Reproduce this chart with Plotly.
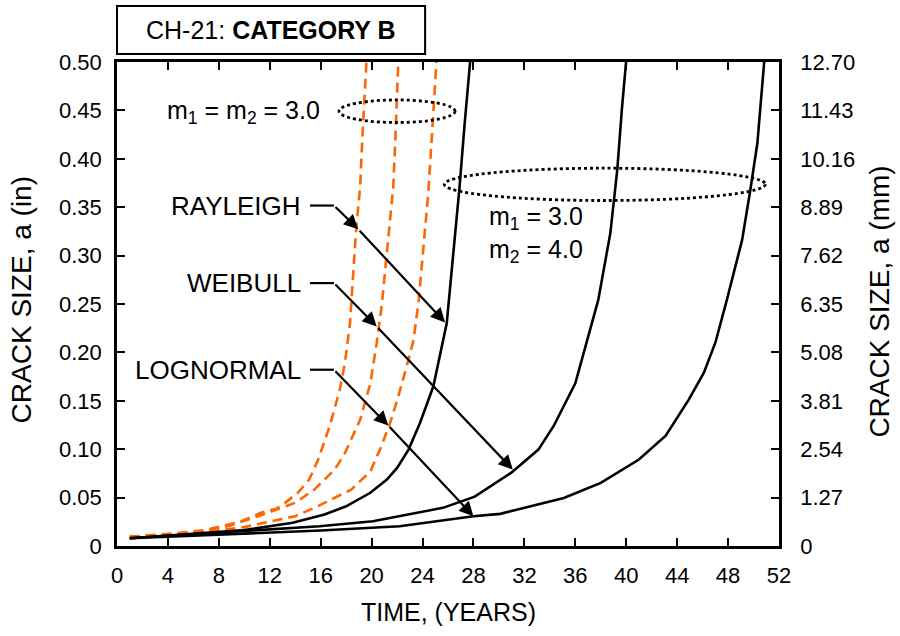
import plotly.graph_objects as go

# ---------------- data ----------------
# Orange dashed curves: m1 = m2 = 3.0
ray3_t = [1, 4, 6.9, 9.8, 11.3, 12.5, 13.2, 14.2, 15.1, 15.8, 16.7, 17.5, 17.9, 18.3, 18.8, 19.1, 19.25, 19.45, 19.6]
ray3_a = [0.0095, 0.0125, 0.0163, 0.0256, 0.0343, 0.0385, 0.0446, 0.0549, 0.0686, 0.0893, 0.1236, 0.1615, 0.189, 0.230, 0.330, 0.371, 0.416, 0.468, 0.502]

wei3_t = [1, 4, 6.5, 8.7, 11.1, 12.6, 14.0, 15.5, 17.1, 17.9, 18.4, 19.1, 19.9, 20.4, 20.8, 21.3, 21.7, 21.85, 22.1]
wei3_a = [0.0095, 0.0118, 0.015, 0.0204, 0.0308, 0.0377, 0.0446, 0.0583, 0.079, 0.096, 0.110, 0.1305, 0.168, 0.2097, 0.249, 0.313, 0.371, 0.416, 0.502]

log3_t = [1, 4, 7, 10, 12.1, 14.0, 15.5, 16.8, 18.4, 19.9, 20.7, 21.45, 22.1, 22.75, 23.3, 23.7, 24.05, 24.45, 24.7, 25.1]
log3_a = [0.0095, 0.0112, 0.0145, 0.0195, 0.0256, 0.0308, 0.0394, 0.048, 0.0583, 0.077, 0.101, 0.127, 0.1546, 0.1855, 0.213, 0.254, 0.309, 0.3645, 0.416, 0.502]

# Black solid curves: m1 = 3.0, m2 = 4.0
ray4_t = [1, 5, 10, 13.8, 16.3, 18.0, 19.9, 21.2, 22.0, 22.9, 23.8, 24.85, 25.9, 26.4, 26.9, 27.3, 27.75]
ray4_a = [0.008, 0.0115, 0.0165, 0.024, 0.0325, 0.041, 0.055, 0.0686, 0.0807, 0.0996, 0.127, 0.165, 0.230, 0.300, 0.370, 0.435, 0.502]

wei4_t = [1, 6, 12, 15.9, 20.1, 22.0, 25.6, 28.1, 31.0, 33.1, 34.3, 36.0, 36.9, 37.8, 38.75, 39.3, 39.65, 40.0]
wei4_a = [0.008, 0.012, 0.0175, 0.0204, 0.0256, 0.0305, 0.0394, 0.051, 0.076, 0.0996, 0.124, 0.168, 0.210, 0.254, 0.323, 0.389, 0.450, 0.502]

log4_t = [1, 8, 16, 22.2, 28.0, 30.1, 32.2, 35.1, 38.0, 41.0, 43.1, 44.9, 46.1, 47.0, 47.9, 49.1, 49.75, 50.3, 50.85]
log4_a = [0.008, 0.012, 0.016, 0.0204, 0.0308, 0.0332, 0.040, 0.0497, 0.0652, 0.0893, 0.114, 0.151, 0.179, 0.210, 0.254, 0.316, 0.368, 0.416, 0.502]

x_ticks = list(range(0, 53, 4))
y_ticks = [0, 0.05, 0.10, 0.15, 0.20, 0.25, 0.30, 0.35, 0.40, 0.45, 0.50]
y_ticktext = ["0", "0.05", "0.10", "0.15", "0.20", "0.25", "0.30", "0.35", "0.40", "0.45", "0.50"]
mm_ticks = [0, 1.27, 2.54, 3.81, 5.08, 6.35, 7.62, 8.89, 10.16, 11.43, 12.70]
mm_ticktext = ["0", "1.27", "2.54", "3.81", "5.08", "6.35", "7.62", "8.89", "10.16", "11.43", "12.70"]

FONT = "Liberation Sans, Arial, Helvetica, sans-serif"
ORANGE = "#FF6600"

fig = go.Figure()

for t, a in [(ray3_t, ray3_a), (wei3_t, wei3_a), (log3_t, log3_a)]:
    fig.add_trace(go.Scatter(x=t, y=a, mode="lines",
                             line=dict(color=ORANGE, width=2.6, dash="10px,6px"),
                             showlegend=False, hoverinfo="skip"))
for t, a in [(ray4_t, ray4_a), (wei4_t, wei4_a), (log4_t, log4_a)]:
    fig.add_trace(go.Scatter(x=t, y=a, mode="lines",
                             line=dict(color="black", width=2.6),
                             showlegend=False, hoverinfo="skip"))

# invisible trace to activate the right (mm) axis
fig.add_trace(go.Scatter(x=[0], y=[0], yaxis="y2", mode="markers",
                         marker=dict(opacity=0), showlegend=False, hoverinfo="skip"))

shapes = []
annotations = []

# dotted ellipses
shapes.append(dict(type="circle", xref="x", yref="y", x0=17.44, x1=26.56, y0=0.4375, y1=0.4608,
                   line=dict(color="black", width=2.8, dash="dot")))
shapes.append(dict(type="circle", xref="x", yref="y", x0=25.71, x1=50.93, y0=0.3569, y1=0.3903,
                   line=dict(color="black", width=2.8, dash="dot")))

# title box
shapes.append(dict(type="rect", xref="paper", yref="paper", x0=0.0, x1=0.4654, y0=1.0165, y1=1.1156,
                   line=dict(color="black", width=2), fillcolor="white"))
annotations.append(dict(xref="paper", yref="paper", x=0.2328, y=1.066, showarrow=False,
                        text="CH-21: <b>CATEGORY B</b>", font=dict(family=FONT, size=25, color="black"),
                        xanchor="center", yanchor="middle"))

# leader labels with arrows
leaders = [
    ("RAYLEIGH", 0.3517, (18.95, 0.3273), (25.77, 0.231)),
    ("WEIBULL", 0.2716, (20.40, 0.2268), (31.09, 0.0789)),
    ("LOGNORMAL", 0.1821, (21.31, 0.1244), (28.0, 0.0308)),
]
for label, ya, mid, end in leaders:
    annotations.append(dict(x=14.6, y=ya, xref="x", yref="y", text=label, showarrow=False,
                            xanchor="right", yanchor="middle",
                            font=dict(family=FONT, size=26, color="black")))
    shapes.append(dict(type="line", xref="x", yref="y", x0=15.16, x1=17.04, y0=ya, y1=ya,
                       line=dict(color="black", width=2.2)))
    annotations.append(dict(x=mid[0], y=mid[1], ax=17.04, ay=ya, xref="x", yref="y",
                            axref="x", ayref="y", text="", showarrow=True, arrowhead=2,
                            arrowsize=1.3, arrowwidth=2.2, arrowcolor="black", standoff=0))
    annotations.append(dict(x=end[0], y=end[1], ax=mid[0], ay=mid[1], xref="x", yref="y",
                            axref="x", ayref="y", text="", showarrow=True, arrowhead=2,
                            arrowsize=1.3, arrowwidth=2.2, arrowcolor="black", standoff=0))

# m labels
annotations.append(dict(x=9.9, y=0.4484, xref="x", yref="y", showarrow=False,
                        text="m<sub>1</sub> = m<sub>2</sub> = 3.0", xanchor="center", yanchor="middle",
                        font=dict(family=FONT, size=25, color="black")))
annotations.append(dict(x=29.07, y=0.339, xref="x", yref="y", showarrow=False,
                        text="m<sub>1</sub> = 3.0", xanchor="left", yanchor="middle",
                        font=dict(family=FONT, size=25, color="black")))
annotations.append(dict(x=29.07, y=0.305, xref="x", yref="y", showarrow=False,
                        text="m<sub>2</sub> = 4.0", xanchor="left", yanchor="middle",
                        font=dict(family=FONT, size=25, color="black")))

# axis titles
annotations.append(dict(xref="paper", yref="paper", x=0.501, y=-0.137, showarrow=False,
                        text="TIME, (YEARS)", font=dict(family=FONT, size=25, color="black"),
                        xanchor="center", yanchor="middle"))
annotations.append(dict(xref="paper", yref="paper", x=-0.1439, y=0.509, showarrow=False,
                        text="CRACK SIZE, a (in)", textangle=-90,
                        font=dict(family=FONT, size=28, color="black"),
                        xanchor="center", yanchor="middle"))
annotations.append(dict(xref="paper", yref="paper", x=1.1526, y=0.505, showarrow=False,
                        text="CRACK SIZE, a (mm)", textangle=-90,
                        font=dict(family=FONT, size=28, color="black"),
                        xanchor="center", yanchor="middle"))

tickfont = dict(family=FONT, size=22, color="black")

fig.update_layout(
    width=900, height=636,
    margin=dict(l=117, r=121, t=62, b=90),
    paper_bgcolor="white", plot_bgcolor="white",
    shapes=shapes, annotations=annotations,
    xaxis=dict(range=[0, 52], tickvals=x_ticks, ticks="inside", ticklen=8, tickwidth=2,
               tickcolor="black", showline=True, linewidth=2.5, linecolor="black",
               mirror="ticks", showgrid=False, zeroline=False, tickfont=tickfont,
               ticklabelstandoff=8),
    yaxis=dict(range=[0, 0.5], tickvals=y_ticks, ticktext=y_ticktext, ticks="inside",
               ticklen=8, tickwidth=2, tickcolor="black", showline=True, linewidth=2.5,
               linecolor="black", mirror=True, showgrid=False, zeroline=False,
               tickfont=tickfont, ticklabelstandoff=8),
    yaxis2=dict(range=[0, 12.7], overlaying="y", side="right", tickvals=mm_ticks,
                ticktext=mm_ticktext, ticks="inside", ticklen=8, tickwidth=2,
                tickcolor="black", showline=True, linewidth=2.5, linecolor="black",
                showgrid=False, zeroline=False, tickfont=tickfont, ticklabelstandoff=14),
)

fig.write_html("out.html", config={"displayModeBar": False},
               post_script="document.body.style.margin='0';document.body.style.overflow='hidden';")
